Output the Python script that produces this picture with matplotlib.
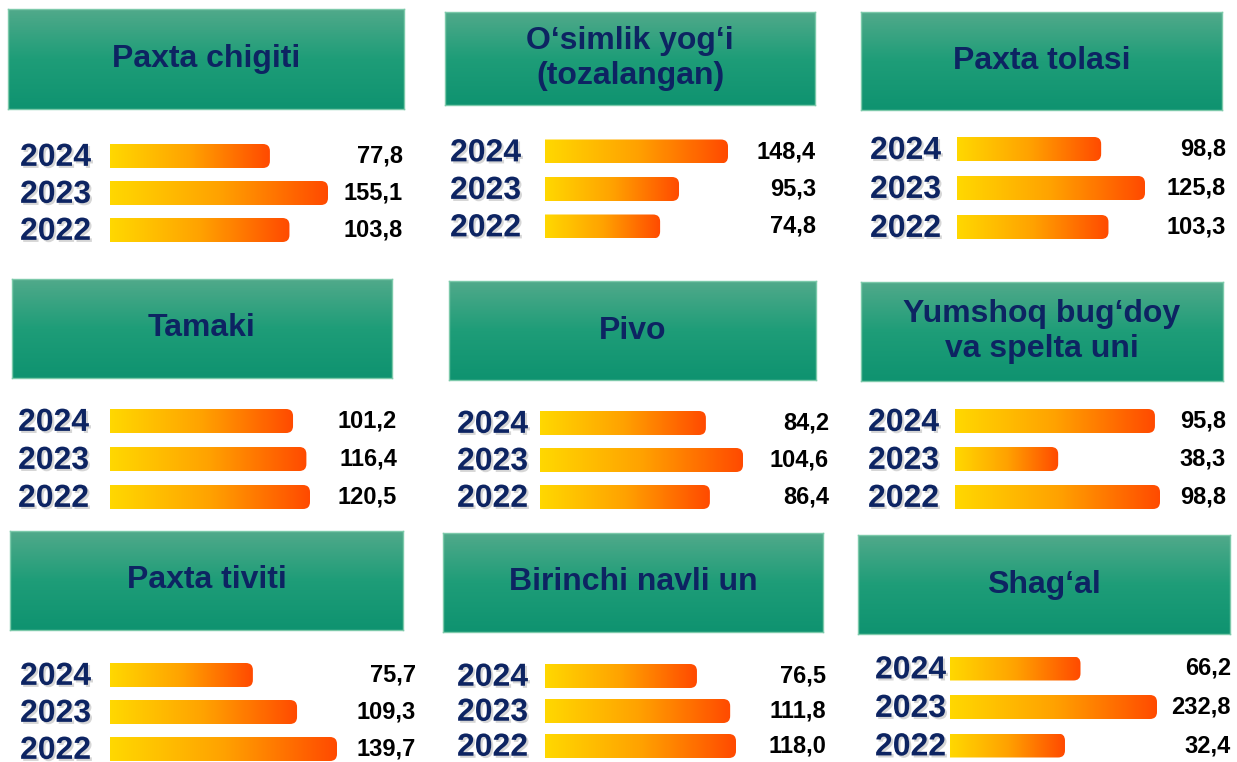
import numpy as np
import matplotlib
matplotlib.use("Agg")
import matplotlib.pyplot as plt
import matplotlib.patheffects as pe
from matplotlib import transforms
from matplotlib.colors import LinearSegmentedColormap
from matplotlib.patches import FancyBboxPatch

plt.rcParams["font.family"] = ["Liberation Sans", "DejaVu Sans"]

# data
titles = ["Paxta chigiti", "O\u2018simlik yog\u2018i\n(tozalangan)", "Paxta tolasi",
          "Tamaki", "Pivo", "Yumshoq bug\u2018doy\nva spelta uni",
          "Paxta tiviti", "Birinchi navli un", "Shag\u2018al"]
years = ["2024", "2023", "2022"]
v_paxta_chigiti = [77.8, 155.1, 103.8]
v_osimlik_yogi = [148.4, 95.3, 74.8]
v_paxta_tolasi = [98.8, 125.8, 103.3]
v_tamaki = [101.2, 116.4, 120.5]
v_pivo = [84.2, 104.6, 86.4]
v_yumshoq_un = [95.8, 38.3, 98.8]
v_paxta_tiviti = [75.7, 109.3, 139.7]
v_birinchi_un = [76.5, 111.8, 118.0]
v_shagal = [66.2, 232.8, 32.4]
values = [v_paxta_chigiti, v_osimlik_yogi, v_paxta_tolasi, v_tamaki, v_pivo,
          v_yumshoq_un, v_paxta_tiviti, v_birinchi_un, v_shagal]

# layout in pixels (figure 1237x762)
W, H = 1237, 762
headers = [(8, 9, 404, 109), (445, 12, 815, 105), (861, 12, 1222, 110),
           (12, 279, 392, 378), (449, 281, 816, 380), (861, 282, 1223, 381),
           (10, 531, 403, 630), (443, 533, 823, 632), (858, 535, 1230, 634)]
# bar start px, end px of longest bar, centre y of middle bar, row spacing
bar_boxes = [(110, 328, 193, 37), (545, 728, 189, 37.5), (957, 1145, 188, 39),
             (110, 310, 459, 38), (540, 743, 460, 37), (955, 1160, 459, 38),
             (110, 337, 712, 37), (545, 736, 711, 35), (950, 1157, 707, 38.5)]
# value where each panel's bar axis starts (the bars are not zero based)
axis_floor = [-135, -50, 10, -107, -7, -23, -33, -85, -218]
year_x = [20, 450, 870, 18, 457, 868, 20, 457, 875]
value_x = [403, 816, 1226, 397, 829, 1226, 416, 826, 1231]

navy = "#0d2462"
head_cmap = LinearSegmentedColormap.from_list("head", ["#50a98a", "#1e9d78", "#0f9370"])
bar_cmap = LinearSegmentedColormap.from_list("bar", ["#ffd800", "#ffa200", "#ff4a00"])


def px_axes(fig, x0, y0, x1, y1):
    return fig.add_axes([x0 / W, 1 - y1 / H, (x1 - x0) / W, (y1 - y0) / H])


fig = plt.figure(figsize=(W / 100, H / 100), dpi=100)

for i, title in enumerate(titles):
    # green header
    x0, y0, x1, y1 = headers[i]
    hax = px_axes(fig, x0, y0, x1, y1)
    hax.imshow(np.linspace(0, 1, 100).reshape(-1, 1), cmap=head_cmap,
               extent=[0, 1, 0, 1], aspect="auto", origin="upper")
    hax.set_xlim(0, 1)
    hax.set_ylim(0, 1)
    hax.set_xticks([])
    hax.set_yticks([])
    for s in hax.spines.values():
        s.set_color("#7cc9aa")
        s.set_linewidth(1)
    hax.text(0.5, 0.5, title, ha="center", va="center", fontsize=23,
             fontweight="bold", color=navy, linespacing=1.2,
             transform=hax.transAxes)

    # bars
    bx0, bx1, ymid, step = bar_boxes[i]
    vals = values[i]
    floor = axis_floor[i]
    ax = px_axes(fig, bx0, ymid - 1.5 * step, bx1, ymid + 1.5 * step)
    ax.set_axis_off()
    xu = (max(vals) - floor) / (bx1 - bx0)   # data units per pixel in x
    yu = 3.0 / (3 * step)                   # data units per pixel in y
    h = 24 * yu
    r = 7 * xu
    for j, v in enumerate(vals):
        im = ax.imshow(np.linspace(0, 1, 256).reshape(1, -1), cmap=bar_cmap,
                       extent=[floor, v, j + h / 2, j - h / 2], aspect="auto")
        clip = FancyBboxPatch((floor - 3 * r, j - h / 2), v - floor + 3 * r, h,
                              boxstyle=f"round,pad=0,rounding_size={r}",
                              mutation_aspect=yu / xu, facecolor="none",
                              edgecolor="none", transform=ax.transData)
        ax.add_patch(clip)
        im.set_clip_path(clip)
    ax.set_xlim(floor, max(vals))
    ax.set_ylim(2.5, -0.5)

    tr = transforms.blended_transform_factory(fig.transFigure, ax.transData)
    for j, (yr, v) in enumerate(zip(years, vals)):
        ax.text(year_x[i] / W, j + 0.05, yr, transform=tr, ha="left",
                va="center", fontsize=23, fontweight="bold", color=navy,
                clip_on=False,
                path_effects=[pe.withSimplePatchShadow(offset=(1.5, -1.5),
                                                       shadow_rgbFace="#999999",
                                                       alpha=0.4)])
        ax.text(value_x[i] / W, j, f"{v:.1f}".replace(".", ","), transform=tr,
                ha="right", va="center", fontsize=17, fontweight="bold",
                color="black", clip_on=False)

fig.savefig("out.png", dpi=100, facecolor="white")
